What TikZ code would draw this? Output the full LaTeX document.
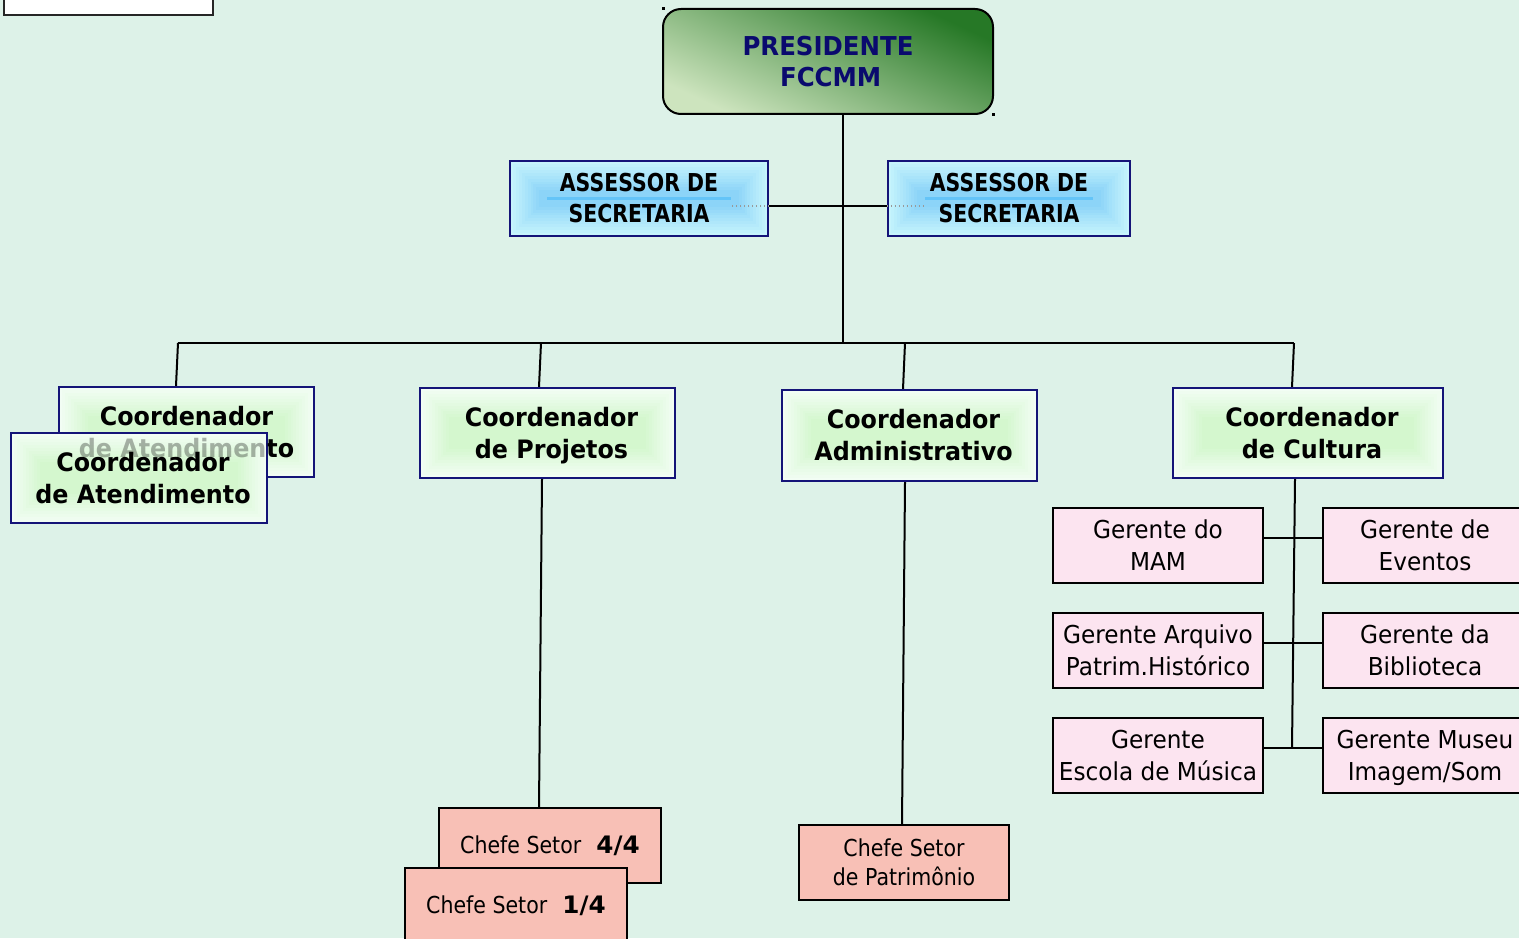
\documentclass[tikz,border=0pt]{standalone}
\usepackage{fontspec}
\setmainfont{DejaVu Sans}
\newfontfamily\tah[FakeStretch=0.94]{DejaVu Sans}
\newfontfamily\tahc[FakeStretch=0.83]{DejaVu Sans}
\newfontfamily\tahch[FakeStretch=0.88]{DejaVu Sans}
\newcommand\tp{\rule{0pt}{1.02em}}
\newcommand\bt{\rule[-0.3em]{0pt}{0pt}}
\newcommand\sr{\hspace*{6pt}}
\definecolor{bg}{RGB}{221,242,232}
\definecolor{navy}{RGB}{20,20,120}
\definecolor{prestext}{RGB}{10,10,110}
\definecolor{gout}{RGB}{242,253,244}
\definecolor{gin}{RGB}{212,247,206}
\definecolor{aout}{RGB}{198,244,252}
\definecolor{ain}{RGB}{140,212,248}
\definecolor{astripe}{RGB}{100,196,248}
\definecolor{salmon}{RGB}{248,192,182}
\definecolor{pinkb}{RGB}{252,228,240}
\definecolor{pdark}{RGB}{38,120,38}
\definecolor{pmid}{RGB}{110,170,100}
\definecolor{plight}{RGB}{205,228,190}
\tikzset{
  conn/.style={draw=black, line width=1.5pt},
  coordbox/.style={draw=navy, line width=1.6pt, inner sep=0pt, align=center,
    minimum width=191.25pt, minimum height=67.5pt,
    font=\tah\bfseries\fontsize{19}{24}\selectfont,
    path picture={
      \foreach \k in {0,...,10}{
        \pgfmathtruncatemacro\pc{\k*10}
        \fill[gin!\pc!gout] ([shift={(\k*2.2pt,\k*2.2pt)}]path picture bounding box.south west) rectangle ([shift={(-\k*2.2pt,-\k*2.2pt)}]path picture bounding box.north east);
      }}},
  assbox/.style={draw=navy, line width=1.6pt, inner sep=0pt, align=center,
    minimum height=56.25pt,
    font=\tahc\bfseries\fontsize{18.5}{23.25}\selectfont,
    path picture={
      \foreach \k in {0,...,10}{
        \pgfmathtruncatemacro\pc{\k*10}
        \fill[ain!\pc!aout] ([shift={(\k*2.2pt,\k*2.2pt)}]path picture bounding box.south west) rectangle ([shift={(-\k*2.2pt,-\k*2.2pt)}]path picture bounding box.north east);
      }
      \draw[astripe, line width=2pt] ([xshift=28pt]path picture bounding box.west) -- ([xshift=-28pt]path picture bounding box.east);
    }},
  chefebox/.style={draw=black, fill=salmon, line width=1.5pt, inner sep=0pt, align=center,
    minimum height=56.25pt, font=\tahch\fontsize{17.5}{21.75}\selectfont},
  gerbox/.style={draw=black, fill=pinkb, line width=1.5pt, inner sep=0pt, align=center,
    minimum width=157.5pt, minimum height=56.25pt, font=\tah\fontsize{18.5}{24}\selectfont},
  presbox/.style={draw=black, line width=1.5pt, rounded corners=13.5pt, inner sep=0pt, align=center,
    minimum width=247.5pt, minimum height=78.75pt,
    top color=pdark, middle color=pmid, bottom color=plight, shading angle=-25,
    text=prestext, font=\tah\bfseries\fontsize{19.5}{23.25}\selectfont},
}
\begin{document}
\begin{tikzpicture}[x=0.75pt,y=-0.75pt]
\useasboundingbox (0,0) rectangle (1519,938);
\clip (0,0) rectangle (1519,938);
\fill[bg] (0,0) rectangle (1519,938);

% top-left white box (cut off)
\draw[line width=1.5pt, draw=black!85, fill=white] (4,-10) rectangle (213,15);

% president
\node[presbox] (pres) at (828,61.5) {\tp PRESIDENTE\\\hspace*{4pt}FCCMM\bt};
\fill (661.5,7) rectangle (664.5,10);
\fill (991.5,113) rectangle (994.5,116);

% assessors
\node[assbox, minimum width=193.5pt] (aL) at (639,198.5) {\tp ASSESSOR DE\\SECRETARIA\bt};
\node[assbox, minimum width=181.5pt] (aR) at (1009,198.5) {\tp ASSESSOR DE\\SECRETARIA\bt};

% coordinators
\node[coordbox] (cAb) at (186.5,432) {\tp Coordenador\\de Atendimento\bt};
\draw[gray!70, dashed, line width=0.6pt] (58,437) -- (58,476) -- (268,476);
\node[coordbox, minimum width=192pt] (cAf) at (139,478) {};
\begin{scope}
  \clip (cAf.south west) rectangle (cAf.north east);
  \node[coordbox, draw=none, path picture={}, text opacity=0.3] (cAbx) at (cAb) {\tp Coordenador\\de Atendimento\bt};
\end{scope}
\node[coordbox, draw=none, path picture={}] (cAft) at (cAf) {\tp\sr Coordenador\\\sr de Atendimento\bt};

\node[coordbox] (cP) at (547.5,433) {\tp\sr Coordenador\\\sr de Projetos\bt};
\node[coordbox, minimum height=68.25pt] (cA) at (909.5,435.5) {\tp\sr Coordenador\\\sr Administrativo\bt};
\node[coordbox, minimum width=202.5pt] (cC) at (1308,433) {\tp\sr Coordenador\\\sr de Cultura\bt};

% chefes
\node[chefebox, minimum width=166.5pt] (ch4) at (550,845.5) {\tp Chefe Setor\hspace{0.65em}\scalebox{1.2}[1.03]{\textbf{4/4}}\bt};
\node[chefebox, minimum width=166.5pt] (ch1) at (516,905.5) {\tp Chefe Setor\hspace{0.65em}\scalebox{1.2}[1.03]{\textbf{1/4}}\bt};
\node[chefebox, minimum width=157.5pt] (chP) at (904,862.5) {\tp Chefe Setor\\de Patrimônio\bt};

% gerentes
\node[gerbox] (gL1) at (1158,545.5) {\tp Gerente do\\MAM\bt};
\node[gerbox] (gL2) at (1158,650.5) {\tp Gerente Arquivo\\Patrim.Histórico\bt};
\node[gerbox] (gL3) at (1158,755.5) {\tp Gerente\\Escola de Música\bt};
\node[gerbox, minimum width=153pt] (gR1) at (1425,545.5) {\tp Gerente de\\Eventos\bt};
\node[gerbox, minimum width=153pt] (gR2) at (1425,650.5) {\tp Gerente da\\Biblioteca\bt};
\node[gerbox, minimum width=153pt] (gR3) at (1425,755.5) {\tp Gerente Museu\\Imagem/Som\bt};

% coordinates
\coordinate (pb) at (843,343);
\coordinate (j) at (843,206);
\coordinate (b1) at (178,343);
\coordinate (b2) at (541,343);
\coordinate (b3) at (905,343);
\coordinate (b4) at (1294,343);
\coordinate (d1) at (176,343);
\coordinate (d2) at (539,343);
\coordinate (d3) at (903,343);
\coordinate (d4) at (1292,343);
\coordinate (p2) at (542,343);
\coordinate (p3) at (905,343);
\coordinate (p4) at (1295,343);
\coordinate (r1) at (1293.5,538);
\coordinate (r2) at (1293,643);
\coordinate (r3) at (1292,748);

% connectors
\draw[conn] (pres.south -| pb) -- (pb);
\draw[conn] (aL.east |- j) -- (aR.west |- j);
\draw[gray!80, dotted, line width=1pt] (aL.east |- j) -- ++(-37,0);
\draw[gray!80, dotted, line width=1pt] (aR.west |- j) -- ++(37,0);
\draw[conn] (b1) -- (b4);
\draw[conn] (b1) -- (d1 |- cAb.north);
\draw[conn] (b2) -- (d2 |- cP.north);
\draw[conn] (b3) -- (d3 |- cA.north);
\draw[conn] (b4) -- (d4 |- cC.north);
\draw[conn] (cP.south -| p2) -- (d2 |- ch4.north);
\draw[conn] (cA.south -| p3) -- ([xshift=-0.75pt]d3 |- chP.north);
\draw[conn] (cC.south -| p4) -- (r3);
\draw[conn] (gL1.east |- r1) -- (gR1.west |- r1);
\draw[conn] (gL2.east |- r2) -- (gR2.west |- r2);
\draw[conn] (gL3.east |- r3) -- (gR3.west |- r3);
\end{tikzpicture}
\end{document}
